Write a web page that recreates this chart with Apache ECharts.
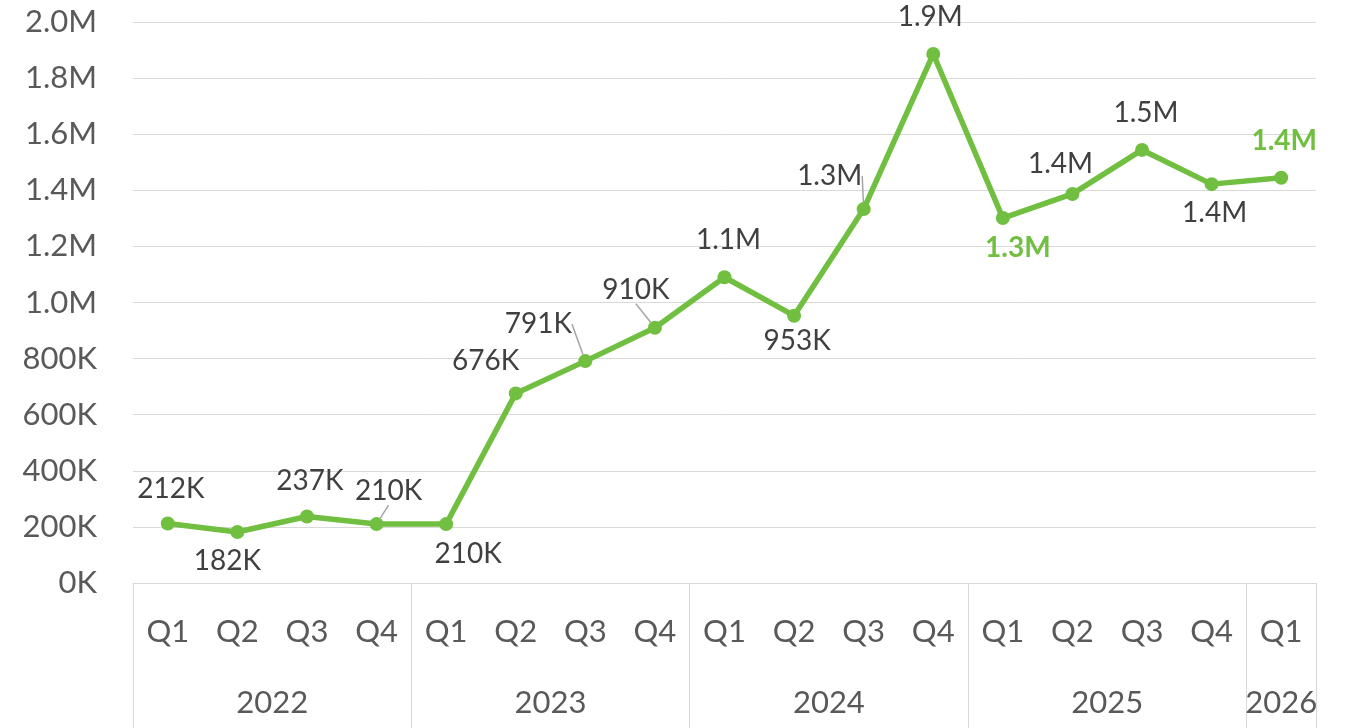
<!DOCTYPE html>
<html>
<head>
<meta charset="utf-8">
<script src="https://cdn.jsdelivr.net/npm/echarts@6/dist/echarts.min.js"></script>
<style>
html,body{margin:0;padding:0;background:#fff;}
#chart{width:1355px;height:728px;}
</style>
</head>
<body>
<div id="chart"></div>
<script>
// ---- data ----
const quarters = ['Q1','Q2','Q3','Q4','Q1','Q2','Q3','Q4','Q1','Q2','Q3','Q4','Q1','Q2','Q3','Q4','Q1'];
const quarterYears = ['2022','2022','2022','2022','2023','2023','2023','2023','2024','2024','2024','2024','2025','2025','2025','2025','2026'];
const revenue = [212000,182000,237000,210000,210000,676000,791000,910000,1090000,953000,1333000,1886000,1301000,1387000,1544000,1422000,1445000];
const yTicks = [0,200000,400000,600000,800000,1000000,1200000,1400000,1600000,1800000,2000000];
const highlighted = [12,16];

// ---- label placement (style only) ----
const labelOffsets = [[3,-35],[-10,29],[3,-36],[12,-33],[22,30],[-30,-32],[-47,-37],[-19,-38],[4,-37],[3,25],[-34,-33],[-3,-37],[15,30],[-12,-30],[4,-37],[3,29],[3,-37]];
const leaderIdx = [3,6,7,10];

// build year groups
const years = [];
const yearCenters = [];
const yearBounds = [0];
quarterYears.forEach((y,i)=>{
  if (i===quarterYears.length-1 || quarterYears[i+1]!==y) {
    const start = yearBounds[yearBounds.length-1];
    years.push(y);
    yearCenters.push((start + i + 1)/2);
    yearBounds.push(i+1);
  }
});

function fmt(v){
  if (v>=1000000) return (v/1000000).toFixed(1)+'M';
  return Math.round(v/1000)+'K';
}

const green = '#71bf40';
const FONT = 'Lato';
const AXFS = 31;
const chart = echarts.init(document.getElementById('chart'));
const seriesData = revenue.map((v,i)=>{
  const d = {value:v};
  if (highlighted.indexOf(i)>=0) d.label = {color:green, fontWeight:'bold'};
  if (leaderIdx.indexOf(i)>=0) d.labelLine = {show:true};
  return d;
});

chart.setOption({
  animation:false,
  textStyle:{fontFamily:FONT},
  grid:{left:133,right:39,top:22,bottom:145,containLabel:false},
  xAxis:[{
    type:'category',
    data:quarters,
    boundaryGap:true,
    axisLine:{show:true,lineStyle:{color:'#d9d9d9',width:1}},
    axisTick:{show:false},
    axisLabel:{color:'#595959',fontSize:AXFS,fontFamily:FONT,margin:33,interval:0}
  },{
    type:'value',
    position:'bottom',
    min:0,
    max:quarters.length,
    axisLine:{show:false},
    splitLine:{show:false},
    axisTick:{show:true,customValues:yearBounds,length:145,lineStyle:{color:'#d9d9d9',width:1}},
    axisLabel:{show:true,customValues:yearCenters,margin:104,color:'#595959',fontSize:AXFS,fontFamily:FONT,
      formatter:function(v){const k=yearCenters.indexOf(v);return k>=0?years[k]:'';}}
  }],
  yAxis:{
    type:'value',
    min:yTicks[0],
    max:yTicks[yTicks.length-1],
    interval:yTicks[1]-yTicks[0],
    axisLine:{show:false},
    axisTick:{show:false},
    splitLine:{lineStyle:{color:'#d9d9d9',width:1}},
    axisLabel:{color:'#595959',fontSize:AXFS,fontFamily:FONT,margin:36,formatter:fmt}
  },
  series:[{
    type:'line',
    xAxisIndex:0,
    data:seriesData,
    symbol:'circle',
    symbolSize:14,
    lineStyle:{color:green,width:5.5},
    itemStyle:{color:green},
    label:{show:true,position:'inside',color:'#404040',fontSize:28,fontFamily:FONT,
      formatter:function(p){return fmt(p.value);}},
    labelLine:{show:false,lineStyle:{color:'#a6a6a6',width:1.5},smooth:false},
    labelLayout:function(p){
      const o = labelOffsets[p.dataIndex];
      return {dx:o[0],dy:o[1]};
    }
  }]
});
</script>
</body>
</html>
